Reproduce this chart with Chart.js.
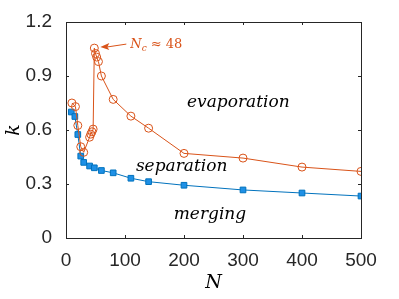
<!DOCTYPE html>
<html>
<head>
<meta charset="utf-8">
<script src="https://cdn.jsdelivr.net/npm/chart.js@4"></script>
<style>
  html, body { margin: 0; padding: 0; background: #fff; }
  #wrap { width: 399px; height: 299px; }
</style>
</head>
<body>
<div id="wrap"><canvas id="chart" width="399" height="299"></canvas></div>
<script>
// merging / separation boundary (blue squares)
const mergeN = [9, 15, 20, 25, 30, 40, 48, 60, 80, 110, 140, 200, 300, 400, 500];
const mergeK = [0.70, 0.675, 0.575, 0.455, 0.42, 0.40, 0.39, 0.375, 0.362, 0.332, 0.313, 0.293, 0.267, 0.25, 0.233];

// separation / evaporation boundary (orange circles)
const evapN = [10, 16, 20, 25, 30, 40, 42, 44, 46, 48, 50, 52, 55, 60, 80, 110, 140, 200, 300, 400, 500];
const evapK = [0.75, 0.73, 0.625, 0.507, 0.476, 0.56, 0.577, 0.59, 0.605, 1.055, 1.025, 1.005, 0.98, 0.9, 0.77, 0.677, 0.61, 0.47, 0.444, 0.394, 0.37];

const xTicks = [0, 100, 200, 300, 400, 500];
const yTicks = [0, 0.3, 0.6, 0.9, 1.2];

const regionLabels = [
  { text: 'evaporation', n: 292, k: 0.75 },
  { text: 'separation', n: 196, k: 0.397 },
  { text: 'merging', n: 244, k: 0.13 }
];
const criticalN = 48;

const blue = '#0072BD';
const orange = '#D95319';
const axisColor = '#262626';

const toPoints = (xs, ys) => xs.map((x, i) => ({ x: x, y: ys[i] }));

// box with inward ticks on all four sides, plus the text overlays
const overlay = {
  id: 'overlay',
  afterDraw(chart) {
    const { ctx, chartArea: a, scales: { x, y } } = chart;
    ctx.save();
    ctx.strokeStyle = axisColor;
    ctx.lineWidth = 1;
    ctx.strokeRect(Math.round(a.left) + 0.5, Math.round(a.top) + 0.5,
      Math.round(a.right - a.left), Math.round(a.bottom - a.top));
    ctx.beginPath();
    xTicks.forEach(t => {
      const px = Math.round(x.getPixelForValue(t)) + 0.5;
      ctx.moveTo(px, a.bottom); ctx.lineTo(px, a.bottom - 3);
      ctx.moveTo(px, a.top); ctx.lineTo(px, a.top + 3);
    });
    yTicks.forEach(t => {
      const py = Math.round(y.getPixelForValue(t)) + 0.5;
      ctx.moveTo(a.left, py); ctx.lineTo(a.left + 3, py);
      ctx.moveTo(a.right, py); ctx.lineTo(a.right - 3, py);
    });
    ctx.stroke();

    // region names
    ctx.fillStyle = '#000';
    ctx.font = 'italic 17px "DejaVu Serif"';
    ctx.textAlign = 'center';
    ctx.textBaseline = 'middle';
    regionLabels.forEach(r => {
      ctx.fillText(r.text, x.getPixelForValue(r.n), y.getPixelForValue(r.k));
    });

    // axis names
    ctx.font = 'italic 19px "DejaVu Serif"';
    ctx.fillText('N', (a.left + a.right) / 2, 283);
    ctx.save();
    ctx.translate(14, (a.top + a.bottom) / 2);
    ctx.rotate(-Math.PI / 2);
    ctx.fillText('k', 0, 0);
    ctx.restore();

    // N_c annotation with arrow
    const i = evapN.indexOf(criticalN);
    const hx = x.getPixelForValue(evapN[i]) + 6;
    const hy = y.getPixelForValue(evapK[i]) - 1;
    const tx = hx + 26;
    ctx.strokeStyle = orange;
    ctx.fillStyle = orange;
    ctx.beginPath();
    ctx.moveTo(tx, hy - 3);
    ctx.lineTo(hx + 6, hy);
    ctx.stroke();
    ctx.beginPath();
    ctx.moveTo(hx, hy);
    ctx.lineTo(hx + 9, hy - 4);
    ctx.lineTo(hx + 7, hy);
    ctx.lineTo(hx + 9, hy + 3);
    ctx.closePath();
    ctx.fill();
    ctx.textAlign = 'left';
    ctx.textBaseline = 'alphabetic';
    let cx = tx + 4;
    const base = hy + 1;
    ctx.font = 'italic 13px "DejaVu Serif"';
    ctx.fillText('N', cx, base);
    cx += ctx.measureText('N').width;
    ctx.font = 'italic 9px "DejaVu Serif"';
    ctx.fillText('c', cx, base + 3);
    cx += ctx.measureText('c').width + 4;
    ctx.font = '13px "DejaVu Serif"';
    ctx.fillText('\u2248 48', cx, base);
    ctx.restore();
  }
};

new Chart(document.getElementById('chart').getContext('2d'), {
  type: 'line',
  data: {
    datasets: [
      {
        label: 'evaporation',
        data: toPoints(evapN, evapK),
        borderColor: orange,
        borderWidth: 1,
        backgroundColor: 'rgba(0,0,0,0)',
        pointStyle: 'circle',
        pointRadius: 4,
        pointBorderColor: orange,
        pointBackgroundColor: 'rgba(0,0,0,0)',
        pointBorderWidth: 1,
        tension: 0
      },
      {
        label: 'merging',
        data: toPoints(mergeN, mergeK),
        borderColor: blue,
        borderWidth: 1,
        backgroundColor: '#1E90E6',
        pointStyle: 'rect',
        pointRadius: 4,
        pointBorderColor: blue,
        pointBackgroundColor: '#1E90E6',
        pointBorderWidth: 1,
        tension: 0
      }
    ]
  },
  plugins: [overlay],
  options: {
    responsive: false,
    animation: false,
    layout: { padding: { top: 22, right: 38, left: 0, bottom: 0 } },
    plugins: { legend: { display: false }, tooltip: { enabled: false } },
    scales: {
      x: {
        type: 'linear',
        min: 0, max: 500,
        afterBuildTicks: s => { s.ticks = xTicks.map(v => ({ value: v })); },
        afterFit: s => { s.height = 61; },
        grid: { display: false },
        border: { display: false },
        ticks: { color: axisColor, font: { family: 'Liberation Sans', size: 19 }, padding: 3, maxRotation: 0 }
      },
      y: {
        type: 'linear',
        min: 0, max: 1.2,
        afterBuildTicks: s => { s.ticks = yTicks.map(v => ({ value: v })); },
        afterFit: s => { s.width = 66; },
        grid: { display: false },
        border: { display: false },
        ticks: { color: axisColor, font: { family: 'Liberation Sans', size: 19 }, padding: 6 }
      }
    }
  }
});
</script>
</body>
</html>
